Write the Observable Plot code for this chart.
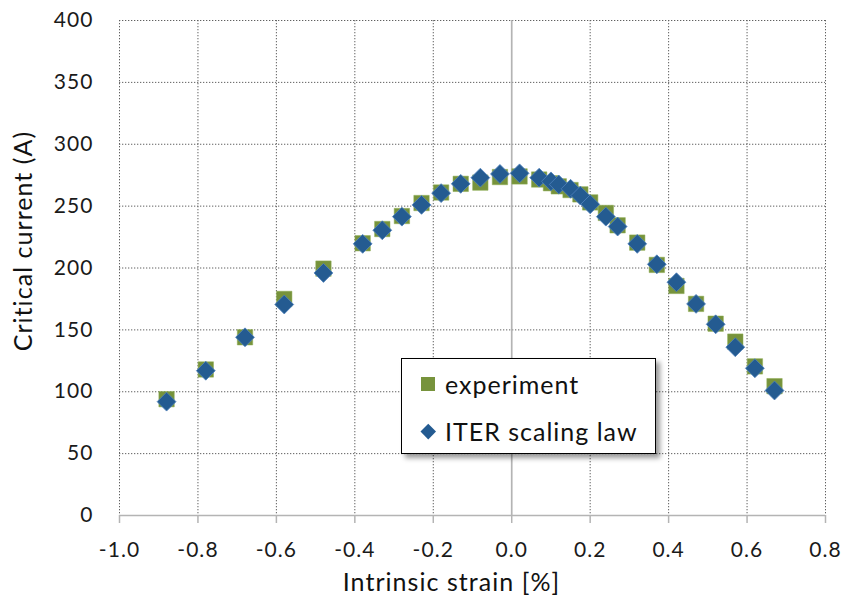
<!DOCTYPE html>
<html>
<head>
<meta charset="utf-8">
<script src="https://cdn.jsdelivr.net/npm/d3@7"></script>
<script src="https://cdn.jsdelivr.net/npm/@observablehq/plot@0.6"></script>
<style>
  html, body { margin: 0; padding: 0; background: #fff; }
  #wrap { position: relative; width: 844px; height: 596px; font-family: Lato, "Open Sans", sans-serif; }
  #legend {
    position: absolute; left: 401px; top: 358px; width: 253px; height: 94px;
    border: 1.6px solid #000; background: #fff;
    box-shadow: 4px 4px 5px rgba(0,0,0,0.4);
    font-family: Lato, sans-serif; font-size: 25px; color: #111; letter-spacing: 1px;
  }
  .item { position: absolute; left: 0; height: 30px; line-height: 30px; white-space: nowrap; }
  .item .lab { position: absolute; left: 43px; top: 0; }
  .sq { position: absolute; left: 19px; top: 8px; width: 14px; height: 14px; background: #77933C; }
  .dm { position: absolute; left: 21px; top: 10px; width: 10.5px; height: 10.5px; background: #245B91; transform: rotate(45deg); }
</style>
</head>
<body>
<div id="wrap"></div>
<script>
// ---- data ----
const strain = [-0.88, -0.78, -0.68, -0.58, -0.48, -0.38, -0.33, -0.28, -0.23, -0.18, -0.13, -0.08, -0.03, 0.02, 0.07, 0.10, 0.12, 0.15, 0.175, 0.20, 0.24, 0.27, 0.32, 0.37, 0.42, 0.47, 0.52, 0.57, 0.62, 0.67];
const experiment = [94, 118, 144, 175, 199.5, 220, 231.5, 242, 252.5, 261, 268, 269, 273.5, 274, 271.5, 268.5, 266, 263, 259.5, 253, 244.5, 234.5, 220.5, 202.5, 185.5, 171, 155, 140.5, 120.5, 104.5];
const iterLaw = [92, 117, 144, 170.5, 196, 219.5, 230.5, 241.5, 251, 260.5, 268, 273, 276, 276.5, 273, 270, 267.5, 264, 258.5, 251.5, 241.5, 233.5, 219.5, 203, 188.5, 171, 154.5, 136, 119, 101];
const xTicks = [-1.0, -0.8, -0.6, -0.4, -0.2, 0.0, 0.2, 0.4, 0.6, 0.8];
const yTicks = [0, 50, 100, 150, 200, 250, 300, 350, 400];
const seriesNames = ["experiment", "ITER scaling law"];
const xTitle = "Intrinsic strain [%]";
const yTitle = "Critical current (A)";

const expData = strain.map((s, i) => ({x: s, y: experiment[i]}));
const iterData = strain.map((s, i) => ({x: s, y: iterLaw[i]}));

const gridStyle = {stroke: "#606060", strokeWidth: 1, strokeDasharray: "1.3,1.7", strokeOpacity: 1};
const axisGray = "#b4b4b4";

const chart = Plot.plot({
  width: 844,
  height: 596,
  marginLeft: 119,
  marginRight: 19,
  marginTop: 20,
  marginBottom: 81,
  style: {fontFamily: "Lato, 'Open Sans', sans-serif", fontSize: "21px", color: "#1a1a1a", background: "white", overflow: "visible", letterSpacing: "0.05em"},
  x: {domain: [-1, 0.8], ticks: xTicks, tickSize: 8, tickPadding: 19, tickFormat: d => d.toFixed(1), label: null},
  y: {domain: [0, 400], ticks: yTicks, tickSize: 0, tickPadding: 26, tickFormat: d => String(d), label: null},
  marks: [
    Plot.ruleX(xTicks.filter(d => d !== 0), gridStyle),
    Plot.ruleY(yTicks.filter(d => d !== 0), gridStyle),
    Plot.ruleX([0], {stroke: axisGray, strokeWidth: 1.7}),
    Plot.ruleY([0], {stroke: axisGray, strokeWidth: 1.7}),
    Plot.dot(expData, {x: "x", y: "y", symbol: "square", r: 8.7, fill: "#77933C", stroke: "#8fae55", strokeWidth: 0.5}),
    Plot.dot(iterData, {x: "x", y: "y", symbol: "diamond2", r: 8.5, fill: "#245B91", stroke: "#4F81BD", strokeWidth: 0.8}),
    Plot.text([xTitle], {text: d => d, frameAnchor: "bottom", textAnchor: "middle", lineAnchor: "middle", dx: -21, dy: 67, fontSize: 25, fill: "#111"}),
    Plot.text([yTitle], {text: d => d, frameAnchor: "left", textAnchor: "middle", lineAnchor: "middle", rotate: -90, dx: -96, dy: -27, fontSize: 25, fill: "#111"})
  ]
});

// colour the tick marks of the bottom axis gray
d3.select(chart).selectAll("g[aria-label^='x-axis'] line, g[aria-label^='x-axis'] path").attr("stroke", axisGray).attr("stroke-width", 1.5);
d3.select(chart).selectAll("g[aria-label^='x-axis'] path.domain").remove();
d3.select(chart).selectAll("g[aria-label^='y-axis'] path.domain").remove();

const wrap = document.getElementById("wrap");
wrap.appendChild(chart);

// legend
const legend = document.createElement("div");
legend.id = "legend";
const markers = ["sq", "dm"];
seriesNames.forEach((name, i) => {
  const item = document.createElement("div");
  item.className = "item";
  item.style.top = (10 + i * 47) + "px";
  item.style.width = "100%";
  const m = document.createElement("span");
  m.className = markers[i];
  const t = document.createElement("span");
  t.className = "lab";
  t.textContent = name;
  item.appendChild(m);
  item.appendChild(t);
  legend.appendChild(item);
});
wrap.appendChild(legend);
</script>
</body>
</html>
